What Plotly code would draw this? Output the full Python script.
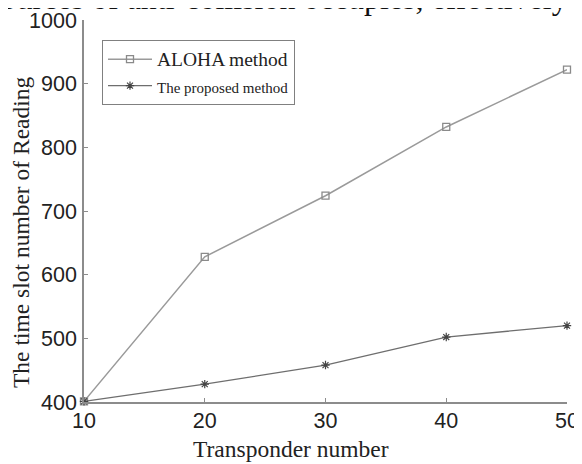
import plotly.graph_objects as go

transponders = [10, 20, 30, 40, 50]
aloha_slots = [401, 628, 724, 832, 922]
proposed_slots = [401, 428, 458, 502, 520]
x_ticks = [10, 20, 30, 40, 50]
y_ticks = [400, 500, 600, 700, 800, 900, 1000]

# the page places the figure 8px in from the window's corner
OFF = 8
W, H = 582 - OFF, 464 - OFF
L, T = 84 - OFF, 20 - OFF
R = W - (567 - OFF)
B = H - (402 - OFF)
PW, PH = W - L - R, H - T - B


def px_x(p):  # window pixel -> paper x
    return (p - OFF - L) / PW


def px_y(p):  # window pixel -> paper y
    return 1 - (p - OFF - T) / PH


fig = go.Figure()
fig.add_trace(go.Scatter(
    x=transponders, y=aloha_slots, mode="lines+markers",
    name="<span style='font-size:19.5px'>ALOHA method</span>",
    line=dict(color="#9a9a9a", width=1.5),
    marker=dict(symbol="square-open", size=7, color="#8a8a8a", line=dict(width=1.3)),
    cliponaxis=False,
))
fig.add_trace(go.Scatter(
    x=transponders, y=proposed_slots, mode="lines+markers",
    name="<span style='font-size:15px'>The proposed method</span>",
    line=dict(color="#6e6e6e", width=1.3),
    marker=dict(symbol="asterisk-open", size=7, color="#444444", line=dict(width=1.2)),
    cliponaxis=False,
))

axis_common = dict(
    showgrid=False, zeroline=False, showline=True, linecolor="#8c8c8c", linewidth=1.5,
    ticks="inside", ticklen=4, tickcolor="#8c8c8c", tickwidth=1,
    tickfont=dict(family="Liberation Sans, Arial", size=21.5, color="#222"),
    mirror=False, automargin=False,
)

serif = "Liberation Serif, Times New Roman"

fig.update_layout(
    width=W, height=H,
    margin=dict(l=L, r=R, t=T, b=B, pad=0),
    paper_bgcolor="white", plot_bgcolor="white",
    showlegend=True,
    legend=dict(
        x=px_x(102), y=px_y(40),
        xanchor="left", yanchor="top",
        bordercolor="#808080", borderwidth=1, bgcolor="white",
        font=dict(family=serif, size=18, color="#222"),
        tracegroupgap=0, itemwidth=44,
    ),
    xaxis=dict(axis_common, range=[10, 50], tickvals=x_ticks, ticklabelstandoff=-2),
    yaxis=dict(axis_common, range=[400, 1000], tickvals=y_ticks, ticklabelstandoff=1),
)

# axis titles
fig.add_annotation(
    text="Transponder number", xref="paper", yref="paper",
    x=px_x(291), y=px_y(449), xanchor="center", yanchor="middle", showarrow=False,
    font=dict(family=serif, size=23.5, color="#222"),
)
fig.add_annotation(
    text="The time slot number of Reading", xref="paper", yref="paper",
    x=px_x(21), y=px_y(232), xanchor="center", yanchor="middle", showarrow=False,
    textangle=-90, font=dict(family=serif, size=23.5, color="#222"),
)

# cropped running text from the page above the figure
fig.add_annotation(
    text="sources of anti-collision occupies, effectively",
    xref="paper", yref="paper",
    x=px_x(570), y=px_y(-2.5),
    xanchor="right", yanchor="middle", showarrow=False,
    font=dict(family=serif, size=32, color="#111"),
)

fig.write_html("out.html")
